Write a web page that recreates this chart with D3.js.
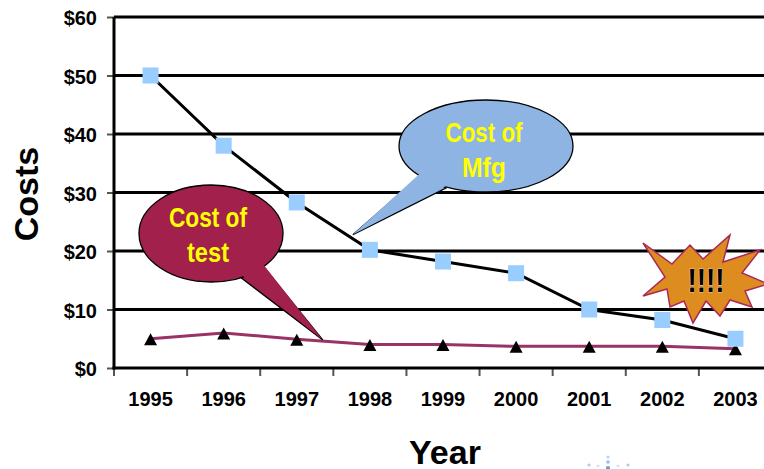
<!DOCTYPE html>
<html><head><meta charset="utf-8">
<script src="https://cdn.jsdelivr.net/npm/d3@7"></script>
<style>html,body{margin:0;padding:0;background:#fff;overflow:hidden}</style>
</head><body>
<script>
const categories = ["1995","1996","1997","1998","1999","2000","2001","2002","2003"];
const mfgCost  = [50, 38, 28.3, 20.2, 18.2, 16.2, 10, 8.2, 5];
const testCost = [5, 6, 4.9, 4, 4, 3.7, 3.7, 3.7, 3.3];
const yTicks = [0, 10, 20, 30, 40, 50, 60];
const yLabel = "Costs";
const xLabel = "Year";
const testNote = ["Cost of", "test"];
const mfgNote = ["Cost of", "Mfg"];
const burstText = "!!!!";

const W = 764, H = 469;
const svg = d3.select("body").append("svg").attr("width", W).attr("height", H);
const font = "'Liberation Sans', Arial, sans-serif";
const narrow = "'Liberation Sans Narrow','Arial Narrow','Liberation Sans',sans-serif";

const x = d3.scaleBand().domain(categories).range([114, 772]).padding(0);
const y = d3.scaleLinear().domain([0, 60]).range([368, 17]);
const cx = c => x(c) + x.bandwidth() / 2;

// gridlines
svg.append("g").selectAll("line").data(yTicks.filter(d => d > 0)).join("line")
  .attr("x1", 114).attr("x2", 772).attr("y1", d => y(d)).attr("y2", d => y(d))
  .attr("stroke", "#000").attr("stroke-width", 3);

// y axis
const yAxis = svg.append("g").attr("transform", "translate(114,0)")
  .call(d3.axisLeft(y).tickValues(yTicks).tickFormat(d => "$" + d).tickSize(7).tickPadding(10));
yAxis.select(".domain").remove();
yAxis.selectAll(".tick line").attr("stroke", "#555").attr("stroke-width", 2);
yAxis.selectAll("text").attr("font-family", font).attr("font-weight", "bold")
  .attr("font-size", 20).attr("fill", "#000").attr("dy", "0.38em");

// x axis labels
const xAxis = svg.append("g").attr("transform", "translate(0,368)")
  .call(d3.axisBottom(x).tickSize(0).tickPadding(24));
xAxis.select(".domain").remove();
xAxis.selectAll("text").attr("font-family", font).attr("font-weight", "bold")
  .attr("font-size", 20).attr("fill", "#000");
// boundary ticks
svg.append("g").selectAll("line").data(categories).join("line")
  .attr("x1", d => x(d)).attr("x2", d => x(d)).attr("y1", 368).attr("y2", 376)
  .attr("stroke", "#555").attr("stroke-width", 2);

// axis lines
svg.append("line").attr("x1", 114).attr("x2", 114).attr("y1", y(60)).attr("y2", y(0) + 1.5)
  .attr("stroke", "#000").attr("stroke-width", 3);
svg.append("line").attr("x1", 112.5).attr("x2", 772).attr("y1", y(0)).attr("y2", y(0))
  .attr("stroke", "#000").attr("stroke-width", 3);

// series lines
const line = d3.line().x((d, i) => cx(categories[i])).y(d => y(d));
svg.append("path").datum(testCost).attr("d", line).attr("fill", "none")
  .attr("stroke", "#993366").attr("stroke-width", 3);
svg.append("path").datum(mfgCost).attr("d", line).attr("fill", "none")
  .attr("stroke", "#000").attr("stroke-width", 3);

// markers
svg.append("g").selectAll("path").data(testCost).join("path")
  .attr("transform", (d, i) => `translate(${cx(categories[i])},${y(d) + 1})`)
  .attr("d", "M0,-6.5L6.5,5.5H-6.5Z").attr("fill", "#000");
svg.append("g").selectAll("rect").data(mfgCost).join("rect")
  .attr("x", (d, i) => cx(categories[i]) - 8).attr("y", d => y(d) - 8)
  .attr("width", 16).attr("height", 16).attr("fill", "#99CCFF");

// callout: cost of test
function callout(g, ecx, ecy, rx, ry, b1, b2, tip, fill) {
  g.append("path").attr("d", `M${b1[0]},${b1[1]}L${tip[0]},${tip[1]}L${b2[0]},${b2[1]}Z`)
    .attr("fill", fill).attr("stroke", "#000").attr("stroke-width", 1.3);
  g.append("ellipse").attr("cx", ecx).attr("cy", ecy).attr("rx", rx).attr("ry", ry)
    .attr("fill", fill).attr("stroke", "#000").attr("stroke-width", 1.3);
  // cover the seam between ellipse and tail
  g.append("path").attr("d", `M${b1[0] + (b2[0]-b1[0])*0.02},${b1[1]-3}L${tip[0]},${tip[1]}L${b2[0]},${b2[1]-2}Z`)
    .attr("fill", fill);
}
const tipTest = [cx("1997") + 26, y(4.8)];
const gTest = svg.append("g");
callout(gTest, 211, 233.5, 72, 48.5, [240, 277], [263, 266], tipTest, "#A2204C");
const gMfg = svg.append("g");
const tipMfg = [cx("1998") - 17, y(22.8)];
callout(gMfg, 486, 146, 87, 46, [420, 176], [446, 188], tipMfg, "#8DB4E2");

function noteText(g, lines, tx, baseline, widths) {
  lines.forEach((t, i) => {
    g.append("text").attr("x", tx).attr("y", baseline + i * 35).attr("text-anchor", "middle")
      .attr("font-family", narrow).attr("font-weight", "bold").attr("font-size", 27)
      .attr("fill", "#FFFF00").attr("textLength", widths[i]).attr("lengthAdjust", "spacingAndGlyphs")
      .text(t);
  });
}
noteText(gTest, testNote, 208, 227, [78, 42]);
noteText(gMfg, mfgNote, 484, 142, [77, 44]);

// burst
const burstPts = [[643,243],[672,264],[690,245],[703,259],[730,235],[723,262],[760,250],[742,273],
  [768,284],[745,291],[752,307],[730,300],[720,316],[706,301],[693,323],[684,301],[670,307],
  [667,289],[643,296],[665,277]];
svg.append("path").attr("d", "M" + burstPts.map(p => p.join(",")).join("L") + "Z")
  .attr("fill", "#DD8C1F").attr("stroke", "#A8285A").attr("stroke-width", 1.5);
svg.append("text").attr("x", 706).attr("y", 292).attr("text-anchor", "middle")
  .attr("font-family", narrow).attr("font-weight", "bold").attr("font-size", 33)
  .attr("textLength", 37).attr("lengthAdjust", "spacingAndGlyphs")
  .attr("fill", "#000").attr("stroke", "#fff").attr("stroke-width", 0.6).attr("paint-order", "stroke")
  .text(burstText);

// axis titles
svg.append("text").attr("transform", "translate(38,194) rotate(-90)").attr("text-anchor", "middle")
  .attr("font-family", font).attr("font-weight", "bold").attr("font-size", 34).attr("fill", "#000")
  .text(yLabel);
svg.append("text").attr("x", 445).attr("y", 464).attr("text-anchor", "middle")
  .attr("font-family", font).attr("font-weight", "bold").attr("font-size", 34).attr("fill", "#000")
  .text(xLabel);

// faint logo dots
const dots = [[608,457,1.5,0.35],[608,462,1.8,0.5],[608,468,2,0.8],[589,465,1.6,0.4],[628,465,1.6,0.4],[598,466,1.3,0.25],[618,466,1.3,0.25]];
svg.append("g").selectAll("circle").data(dots).join("circle")
  .attr("cx", d => d[0]).attr("cy", d => d[1]).attr("r", d => d[2])
  .attr("fill", "#3a7fc4").attr("opacity", d => d[3]);
</script>
</body></html>
